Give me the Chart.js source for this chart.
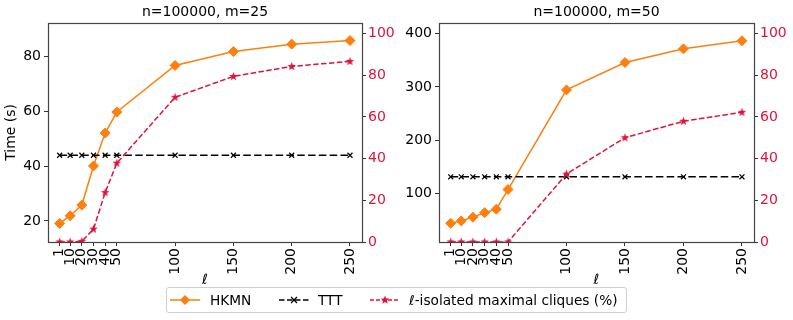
<!DOCTYPE html>
<html>
<head>
<meta charset="utf-8">
<script src="https://cdn.jsdelivr.net/npm/chart.js@4"></script>
<style>
  body { margin: 0; background: #fff; width: 793px; height: 320px; position: relative; overflow: hidden; font-family: 'DejaVu Sans', sans-serif; }
  #c1 { position: absolute; left: 0; top: 0; }
  #c2 { position: absolute; left: 400px; top: 0; }
  #legend { position: absolute; left: 166px; top: 287px; width: 459px; height: 24px; border: 1px solid #d0d0d0; border-radius: 3px; font-size: 13.7px; color: #000; }
  #legend .item { position: absolute; top: 0; height: 24px; display: flex; align-items: center; white-space: nowrap; }
  #legend svg { display: block; }
</style>
</head>
<body>
<canvas id="c1" width="400" height="290"></canvas>
<canvas id="c2" width="393" height="290"></canvas>
<div id="legend"></div>

<script>
// data
const ellValues = [1, 10, 20, 30, 40, 50, 100, 150, 200, 250];
const xTickValues = [1, 10, 20, 30, 40, 50, 100, 150, 200, 250];

// n=100000, m=25
const hkmn25 = [19.1, 21.9, 25.8, 40.1, 52.1, 59.8, 76.8, 81.9, 84.6, 85.9];
const ttt25 = [44, 44, 44, 44, 44, 44, 44, 44, 44, 44];
const iso25 = [0, 0, 0.3, 6.2, 23.7, 37.8, 69.4, 79.4, 84.2, 86.6];
const timeTicks25 = [20, 40, 60, 80];

// n=100000, m=50
const hkmn50 = [43.5, 48, 55, 63.5, 70, 107, 294.5, 346, 371.7, 386.8];
const ttt50 = [131, 131, 131, 131, 131, 131, 131, 131, 131, 131];
const iso50 = [0, 0, 0, 0, 0, 0, 32.6, 50, 57.9, 62.2];
const timeTicks50 = [100, 200, 300, 400];

const pctTicks = [0, 20, 40, 60, 80, 100];

const ORANGE = '#ff7f0e';
const CRIMSON = '#dc143c';
const FAMILY = "'DejaVu Sans', sans-serif";
const FONT = { family: FAMILY, size: 14 };

Chart.defaults.font.family = FAMILY;
Chart.defaults.font.size = 14;

// filled five point star, like matplotlib '*'
function starImage(color, R) {
    const c = document.createElement('canvas');
    const s = Math.ceil(R * 2 + 2);
    c.width = s; c.height = s;
    const g = c.getContext('2d');
    g.fillStyle = color;
    g.beginPath();
    for (let i = 0; i < 10; i++) {
        const r = i % 2 ? R * 0.42 : R;
        const a = -Math.PI / 2 + i * Math.PI / 5;
        g.lineTo(s / 2 + r * Math.cos(a), s / 2 + r * Math.sin(a));
    }
    g.closePath();
    g.fill();
    return c;
}
const star = starImage(CRIMSON, 4.5);

function toPoints(ys) {
    return ellValues.map((x, i) => ({ x: x, y: ys[i] }));
}

// draw the box around the plot like matplotlib spines
const spines = {
    id: 'spines',
    afterDraw(chart) {
        const a = chart.chartArea, ctx = chart.ctx;
        ctx.save();
        ctx.strokeStyle = '#444';
        ctx.lineWidth = 1.2;
        ctx.strokeRect(Math.round(a.left) + 0.5, Math.round(a.top) + 0.5,
            Math.round(a.right - a.left), Math.round(a.bottom - a.top));
        ctx.restore();
    }
};

function makeChart(id, title, hkmn, ttt, iso, yMin, yMax, yTicks, yTitle, leftW, rightW) {
    const ctx = document.getElementById(id).getContext('2d');
    return new Chart(ctx, {
        type: 'line',
        data: {
            datasets: [{
                label: 'HKMN',
                data: toPoints(hkmn),
                yAxisID: 'y',
                borderColor: ORANGE,
                backgroundColor: ORANGE,
                borderWidth: 1.5,
                pointStyle: 'rectRot',
                pointRadius: 5,
                pointBorderWidth: 1,
                order: 3
            }, {
                label: 'TTT',
                data: toPoints(ttt),
                yAxisID: 'y',
                borderColor: '#000',
                backgroundColor: '#000',
                borderWidth: 1.5,
                borderDash: [7.5, 3.3],
                pointStyle: 'crossRot',
                pointRadius: 3.5,
                pointBorderWidth: 1.2,
                order: 2
            }, {
                label: 'iso',
                data: toPoints(iso),
                yAxisID: 'y1',
                borderColor: CRIMSON,
                backgroundColor: CRIMSON,
                borderWidth: 1.5,
                borderDash: [5.5, 2.4],
                pointStyle: star,
                order: 1
            }]
        },
        options: {
            responsive: false,
            animation: false,
            events: [],
            layout: { padding: 0 },
            plugins: {
                legend: { display: false },
                tooltip: { enabled: false },
                title: {
                    display: true,
                    text: title,
                    fullSize: false,
                    color: '#000',
                    font: { family: FAMILY, size: 14, weight: 'normal' },
                    padding: { top: 4, bottom: 2 }
                }
            },
            scales: {
                x: {
                    type: 'linear',
                    min: -9,
                    max: 260.3,
                    afterBuildTicks: s => { s.ticks = xTickValues.map(v => ({ value: v })); },
                    afterFit: s => { s.height = 48; },
                    border: { display: false },
                    grid: { drawOnChartArea: false, drawTicks: true, tickLength: 4, color: '#333' },
                    ticks: { color: '#000', font: FONT, minRotation: 90, maxRotation: 90, padding: 2, autoSkip: false },
                    title: { display: true, text: 'ℓ', color: '#000', font: { family: FAMILY, size: 14, style: 'italic' }, padding: { top: 0, bottom: 1.5 } }
                },
                y: {
                    type: 'linear',
                    position: 'left',
                    min: yMin,
                    max: yMax,
                    afterBuildTicks: s => { s.ticks = yTicks.map(v => ({ value: v })); },
                    afterFit: s => { s.width = leftW; },
                    border: { display: false },
                    grid: { drawOnChartArea: false, drawTicks: true, tickLength: 4, color: '#333' },
                    ticks: { color: '#000', font: FONT, padding: 3 },
                    title: { display: !!yTitle, text: yTitle, color: '#000', font: FONT, padding: { top: 3, bottom: 0 } }
                },
                y1: {
                    type: 'linear',
                    position: 'right',
                    min: 0,
                    max: 105.1,
                    afterBuildTicks: s => { s.ticks = pctTicks.map(v => ({ value: v })); },
                    afterFit: s => { s.width = rightW; },
                    border: { display: false },
                    grid: { drawOnChartArea: false, drawTicks: true, tickLength: 4, color: '#333' },
                    ticks: { color: CRIMSON, font: FONT, padding: 2 }
                }
            },
            elements: { line: { tension: 0 } }
        },
        plugins: [spines]
    });
}

makeChart('c1', 'n=100000, m=25', hkmn25, ttt25, iso25, 12.3, 92.4, timeTicks25, 'Time (s)', 48, 38);
makeChart('c2', 'n=100000, m=50', hkmn50, ttt50, iso50, 8.3, 420.7, timeTicks50, '', 39, 39);

// legend shared by both panels
function starPoints(cx, cy, R) {
    const pts = [];
    for (let i = 0; i < 10; i++) {
        const r = i % 2 ? R * 0.42 : R;
        const a = -Math.PI / 2 + i * Math.PI / 5;
        pts.push((cx + r * Math.cos(a)).toFixed(2) + ',' + (cy + r * Math.sin(a)).toFixed(2));
    }
    return pts.join(' ');
}

const legendItems = [
    { left: 3, textLeft: 43, label: 'HKMN',
      svg: `<line x1="0" y1="7" x2="30" y2="7" stroke="${ORANGE}" stroke-width="1.5"/>` +
           `<polygon points="15,2 20,7 15,12 10,7" fill="${ORANGE}"/>` },
    { left: 112, textLeft: 151, label: 'TTT',
      svg: `<line x1="0" y1="7" x2="30" y2="7" stroke="#000" stroke-width="1.5" stroke-dasharray="5.5 2.5"/>` +
           `<line x1="12" y1="4" x2="18" y2="10" stroke="#000" stroke-width="1.2"/>` +
           `<line x1="12" y1="10" x2="18" y2="4" stroke="#000" stroke-width="1.2"/>` },
    { left: 203, textLeft: 242, label: '<i>ℓ</i>-isolated maximal cliques (%)',
      svg: `<line x1="0" y1="7" x2="30" y2="7" stroke="${CRIMSON}" stroke-width="1.5" stroke-dasharray="4 2"/>` +
           `<polygon points="${starPoints(15, 7, 4.5)}" fill="${CRIMSON}"/>` }
];

const legend = document.getElementById('legend');
legendItems.forEach(it => {
    const sym = document.createElement('div');
    sym.className = 'item';
    sym.style.left = it.left + 'px';
    sym.innerHTML = `<svg width="30" height="14">${it.svg}</svg>`;
    legend.appendChild(sym);
    const txt = document.createElement('div');
    txt.className = 'item';
    txt.style.left = it.textLeft + 'px';
    txt.innerHTML = it.label;
    legend.appendChild(txt);
});
</script>
</body>
</html>
